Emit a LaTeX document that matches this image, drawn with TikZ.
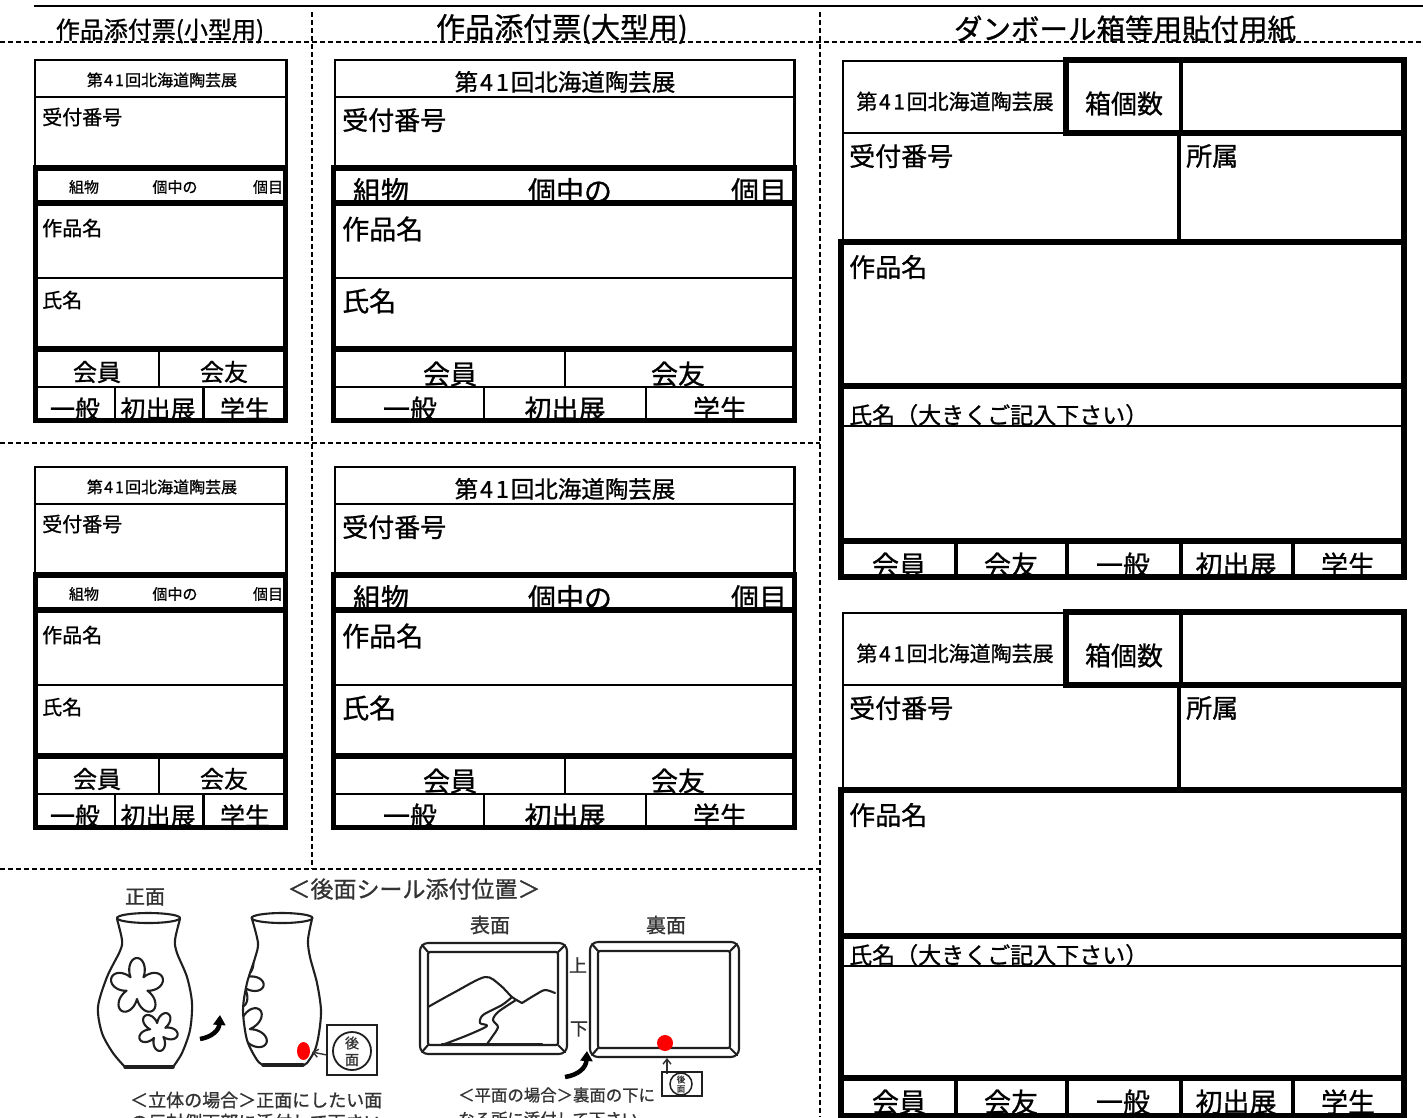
\documentclass[tikz,border=0pt]{standalone}
\usepackage{fontspec}
\setmainfont{Noto Sans CJK JP}[FakeBold=0.9]
\usetikzlibrary{arrows.meta}
\newcommand{\fsz}[1]{\fontsize{#1pt}{#1pt}\selectfont}
\newcommand{\dai}{第\kern.08em 4\kern.12em 1\kern.08em 回北海道陶芸展}
\newcommand{\cnode}[6]{\begin{scope}\clip #2 rectangle #3;\node[ctr,font=\fsz{#4}] (#1) at #5 {#6};\end{scope}}
\tikzset{
 thinln/.style={line width=2.5pt},
 medln/.style={line width=3.5pt},
 thickln/.style={line width=5.5pt},
 cutln/.style={line width=1.8pt, dash pattern=on 5pt off 3pt},
 lbl/.style={inner sep=0pt, anchor=west},
 ctr/.style={inner sep=0pt},
 sketch/.style={line width=2.1pt, draw=black!88, line cap=round, line join=round},
 illtext/.style={inner sep=0pt, text=black!80},
}
% small card: #1 prefix, #2 y shift
\newcommand{\smallcard}[2]{%
\begin{scope}[shift={(0,#2)}]
 \draw[thinln] (35,60) rectangle (286.5,166);
 \draw[thinln] (35,97) -- (286.5,97);
 \draw[thickln] (35.5,168) rectangle (285.5,420.5);
 \draw[thickln] (35.5,203) -- (285.5,203);
 \draw[thinln] (35.5,278) -- (285.5,278);
 \draw[thickln] (35.5,349) -- (285.5,349);
 \draw[thinln] (35.5,387) -- (285.5,387);
 \draw[thinln] (159,349) -- (159,387);
 \draw[thinln] (115,387) -- (115,420.5);
 \draw[thinln] (203.5,387) -- (203.5,420.5);
 \node[ctr,font=\fsz{16}] (#1hd) at (162,80) {\dai};
 \node[lbl,font=\fsz{20}] (#1no) at (42,117) {受付番号};
 \cnode{#1k1}{(38,171)}{(283,200)}{15}{(84,187)}{組物}
 \cnode{#1k2}{(38,171)}{(283,200)}{15}{(175,187)}{個中の}
 \cnode{#1k3}{(38,171)}{(283,200)}{15}{(268,187)}{個目}
 \node[lbl,font=\fsz{20}] (#1wk) at (42,228) {作品名};
 \node[lbl,font=\fsz{20}] (#1nm) at (42,300) {氏名};
 \cnode{#1m1}{(38,352)}{(283,385)}{24}{(97,372)}{会員}
 \cnode{#1m2}{(38,352)}{(283,385)}{24}{(224,372)}{会友}
 \cnode{#1b1}{(38,389)}{(283,417.5)}{25}{(75,409)}{一般}
 \cnode{#1b2}{(38,389)}{(283,417.5)}{25}{(158,409)}{初出展}
 \cnode{#1b3}{(38,389)}{(283,417.5)}{25}{(245,409)}{学生}
\end{scope}}
% large card
\newcommand{\largecard}[2]{%
\begin{scope}[shift={(0,#2)}]
 \draw[thinln] (335,60) rectangle (794.5,166);
 \draw[thinln] (335,97) -- (794.5,97);
 \draw[thickln] (333.5,168) rectangle (794.5,420.5);
 \draw[thickln] (333.5,203) -- (794.5,203);
 \draw[thinln] (333.5,278) -- (794.5,278);
 \draw[thickln] (333.5,349) -- (794.5,349);
 \draw[thinln] (333.5,387) -- (794.5,387);
 \draw[thinln] (565,349) -- (565,387);
 \draw[thinln] (484,387) -- (484,420.5);
 \draw[thinln] (646,387) -- (646,420.5);
 \node[ctr,font=\fsz{23.5}] (#1hd) at (565,82) {\dai};
 \node[lbl,font=\fsz{26}] (#1no) at (342,120) {受付番号};
 \cnode{#1k1}{(337,171)}{(791,200)}{28}{(381,191)}{組物}
 \cnode{#1k2}{(337,171)}{(791,200)}{28}{(570,191)}{個中の}
 \cnode{#1k3}{(337,171)}{(791,200)}{28}{(759,191)}{個目}
 \node[lbl,font=\fsz{27}] (#1wk) at (342,229) {作品名};
 \node[lbl,font=\fsz{27}] (#1nm) at (342,301) {氏名};
 \cnode{#1m1}{(337,352)}{(791,385)}{27}{(450,374)}{会員}
 \cnode{#1m2}{(337,352)}{(791,385)}{27}{(678,374)}{会友}
 \cnode{#1b1}{(337,389)}{(791,417.5)}{27}{(410,409)}{一般}
 \cnode{#1b2}{(337,389)}{(791,417.5)}{27}{(565,409)}{初出展}
 \cnode{#1b3}{(337,389)}{(791,417.5)}{27}{(720,409)}{学生}
\end{scope}}
% right box: #1 prefix, #2 top, #3 hdr, #4 r2, #5 wk, #6 nl, #7 nb, #8 bot
\newcommand{\rbox}[8]{%
 \draw[thinln] (843,#2+1) rectangle (1066,#3);
 \draw[thickln] (1066,#2) rectangle (1404,#3);
 \draw[medln] (1181,#2) -- (1181,#3);
 \draw[thinln] (843,#3) -- (843,#4);
 \draw[medln] (1179,#3) -- (1179,#4);
 \draw[thickln] (1404,#3) -- (1404,#4);
 \draw[thickln] (841,#4) rectangle (1404,#8);
 \draw[thickln] (841,#5) -- (1404,#5);
 \draw[thinln] (841,#6) -- (1404,#6);
 \draw[thickln] (841,#7) -- (1404,#7);
 \foreach \xx in {956,1067,1181,1293} \draw[medln] (\xx,#7) -- (\xx,#8);
 \node[ctr,font=\fsz{21}] (#1hd) at (955,{(#2+#3)/2+5}) {\dai};
 \node[ctr,font=\fsz{26}] (#1hk) at (1124,{(#2+#3)/2+7}) {箱個数};
 \node[lbl,font=\fsz{26}] (#1no) at (849,{#3+23}) {受付番号};
 \node[lbl,font=\fsz{26}] (#1sz) at (1186,{#3+23}) {所属};
 \node[lbl,font=\fsz{26}] (#1wk) at (849,{#4+25}) {作品名};
 \begin{scope}\clip (844,#5+3) rectangle (1401,#6-1);
 \node[lbl,font=\fsz{23}] (#1nm) at (849,{#6-11}) {氏名（大きくご記入下さい）};
 \end{scope}
 \cnode{#1b1}{(844,#7+3)}{(1401,#8-3)}{27}{(899,{#7+24})}{会員}
 \cnode{#1b2}{(844,#7+3)}{(1401,#8-3)}{27}{(1011,{#7+24})}{会友}
 \cnode{#1b3}{(844,#7+3)}{(1401,#8-3)}{27}{(1123,{#7+24})}{一般}
 \cnode{#1b4}{(844,#7+3)}{(1401,#8-3)}{27}{(1236,{#7+24})}{初出展}
 \cnode{#1b5}{(844,#7+3)}{(1401,#8-3)}{27}{(1348,{#7+24})}{学生}
}
\begin{document}
\begin{tikzpicture}[x=1pt,y=-1pt]
\useasboundingbox (0,0) rectangle (1423,1117);
\clip (0,0) rectangle (1423,1117);
\fill[white] (0,0) rectangle (1423,1117);
% frame lines
\draw[line width=2.5pt] (34,6) -- (1423,6);
\draw[cutln] (0,42) -- (1423,42);
\draw[cutln] (312,12) -- (312,869);
\draw[cutln] (820,12) -- (820,1117);
\draw[cutln] (0,443) -- (820,443);
\draw[cutln] (0,869) -- (820,869);
% titles
\node[ctr,font=\fsz{24}] (t1) at (160,31) {作品添付票(小型用)};
\node[ctr,font=\fsz{29}] (t2) at (562,29) {作品添付票(大型用)};
\node[ctr,font=\fsz{28.5}] (t3) at (1125,29) {ダンボール箱等用貼付用紙};
% cards
\smallcard{sa}{0}
\smallcard{sb}{407}
\largecard{la}{0}
\largecard{lb}{407}
\rbox{ra}{60}{133}{242}{386}{426}{541}{577}
\rbox{rb}{612}{685}{790}{936}{966}{1078}{1116}
% ---------- illustration ----------
\node[illtext,font=\fsz{23}] (ill) at (414,889) {＜後面シール添付位置＞};
\node[illtext,font=\fsz{20}] (shomen) at (145,897) {正面};
\node[illtext,font=\fsz{20}] (omote) at (490,925) {表面};
\node[illtext,font=\fsz{20}] (ura) at (666,925) {裏面};
% vase 1
\draw[sketch] (148.5,918) ellipse (31.5 and 5);
\draw[sketch] plot[smooth] coordinates {(117,919) (122,940) (120,951) (107,977) (98,1007) (102,1033) (113,1053) (125,1067)};
\draw[sketch] plot[smooth] coordinates {(180,919) (175,940) (177,953) (187,977) (192,1003) (190,1030) (182,1053) (173,1067)};
\draw[line width=3.5pt, black!88, line cap=round] (125,1067) -- (173,1067);
\draw[sketch] plot[domain=0:360, samples=121, smooth] ({137+(11+16*abs(cos(2.5*\x)))*cos(\x-90)}, {987+(12+17*abs(cos(2.5*\x)))*sin(\x-90)});
\draw[sketch] plot[domain=0:360, samples=121, smooth] ({158+(8+12*abs(cos(2.5*\x)))*cos(\x-60)}, {1031+(8+12*abs(cos(2.5*\x)))*sin(\x-60)});
% arrow 1
\draw[line width=4.5pt, black, -{Triangle[length=10pt,width=12pt]}] (200,1039) .. controls (212,1037) and (219,1030) .. (220,1015);
% vase 2
\begin{scope}
\clip plot[smooth] coordinates {(252,919) (258,943) (255,958) (247,983) (243,1010) (247,1040) (257,1060) (263,1065)} -- plot[smooth] coordinates {(303,1065) (307,1063) (315,1050) (319,1033) (321,1010) (317,983) (310,957) (308,940) (312,919)} -- cycle;
\draw[sketch] plot[domain=0:360, samples=121, smooth] ({238+(9+17*abs(cos(2.5*\x)))*cos(\x+10)}, {981+(9+17*abs(cos(2.5*\x)))*sin(\x+10)});
\draw[sketch] plot[domain=0:360, samples=121, smooth] ({240+(10+19*abs(cos(2.5*\x)))*cos(\x+25)}, {1031+(10+19*abs(cos(2.5*\x)))*sin(\x+25)});
\end{scope}
\draw[sketch] (282,918) ellipse (30.5 and 5);
\draw[sketch] plot[smooth] coordinates {(252,919) (258,943) (255,958) (247,983) (243,1010) (247,1040) (257,1060) (263,1065)};
\draw[sketch] plot[smooth] coordinates {(312,919) (308,940) (310,957) (317,983) (321,1010) (319,1033) (315,1050) (307,1063) (303,1065)};
\draw[line width=3.5pt, black!88, line cap=round] (263,1065) -- (303,1065);
\fill[red] (303.5,1051) ellipse (6.5 and 9);
\draw[line width=1.4pt, black!80, -{Straight Barb[length=5pt,width=8pt]}] (327,1055) -- (312,1052);
\draw[line width=1.8pt, black!88] (327,1025) rectangle (377,1075);
\draw[line width=1.8pt, black!88] (352,1051) circle (19);
\node[illtext,font=\fsz{14}] (st1a) at (352,1043) {後};
\node[illtext,font=\fsz{14}] (st1b) at (352,1060) {面};
% frame 1 (front)
\draw[sketch, rounded corners=8pt] (420,943) rectangle (567,1054);
\draw[sketch, rounded corners=2pt] (428,952) rectangle (558,1045);
\draw[sketch] (422,945) -- (428,952);
\draw[sketch] (565,945) -- (558,952);
\draw[sketch] (422,1052) -- (428,1045);
\draw[sketch] (565,1052) -- (558,1045);
\draw[sketch] plot[smooth] coordinates {(428,1007) (455,992) (485,977) (500,985) (512,997) (522,1003)};
\draw[sketch] plot[smooth] coordinates {(522,1003) (535,995) (545,990) (555,993)};
\draw[sketch] plot[smooth] coordinates {(512,997) (502,1005) (483,1015) (480,1023) (487,1026) (468,1035) (442,1045)};
\draw[sketch] plot[smooth] coordinates {(516,1000) (498,1012) (493,1020) (498,1027) (492,1037) (487,1044)};
\draw[sketch] (442,1044) -- (542,1044);
\node[illtext,font=\fsz{18}] (ue) at (578,965) {上};
\node[illtext,font=\fsz{18}] (shita) at (579,1029) {下};
% frame 2 (back)
\draw[sketch, rounded corners=8pt] (590,942) rectangle (739,1057);
\draw[sketch, rounded corners=2pt] (598,951) rectangle (730,1048);
\draw[sketch] (592,944) -- (598,951);
\draw[sketch] (737,944) -- (730,951);
\draw[sketch] (592,1055) -- (598,1048);
\draw[sketch] (737,1055) -- (730,1048);
\fill[red] (665,1043) circle (8);
\draw[line width=1.4pt, black!80, -{Straight Barb[length=5pt,width=8pt]}] (667,1074) -- (667,1058);
\draw[line width=1.8pt, black!88] (662,1072) rectangle (702,1096);
\draw[line width=1.5pt, black!88] (681,1084) circle (11);
\node[illtext,font=\fsz{8.5}] (st2a) at (681,1079.5) {後};
\node[illtext,font=\fsz{8.5}] (st2b) at (681,1089) {面};
% arrow 2
\draw[line width=4.5pt, black, -{Triangle[length=10pt,width=12pt]}] (565,1077) .. controls (578,1075) and (586,1068) .. (587,1051);
% captions
\node[illtext,font=\fsz{18},anchor=west] (cap1) at (130,1100) {＜立体の場合＞正面にしたい面};
\node[illtext,font=\fsz{18},anchor=west] (cap1b) at (130,1122) {の反対側下部に添付して下さい};
\node[illtext,font=\fsz{16.4},anchor=west] (cap2) at (458,1095) {＜平面の場合＞裏面の下に};
\node[illtext,font=\fsz{16.4},anchor=west] (cap2b) at (458,1119) {なる所に添付して下さい};
\end{tikzpicture}
\end{document}
